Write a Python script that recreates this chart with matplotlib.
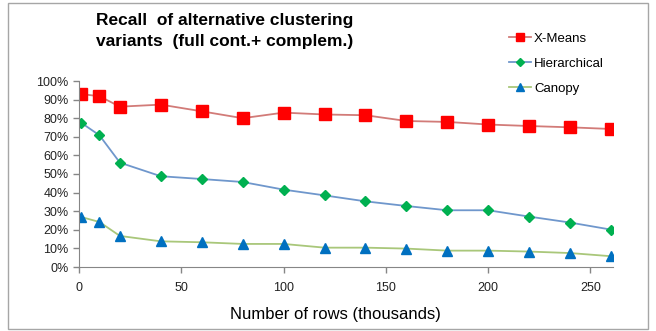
#!/usr/bin/env python3
# -*- coding: utf-8 -*-

import matplotlib as mpl
mpl.use("Agg")
from matplotlib import pyplot as plt
from matplotlib.patches import Rectangle
from matplotlib.ticker import PercentFormatter

plt.rcParams["font.family"] = ["Liberation Sans", "DejaVu Sans"]

# - data (recall, fraction)
rows_k = [1, 10, 20, 40, 60, 80, 100, 120, 140, 160, 180, 200, 220, 240, 260]
xmeans = [0.930, 0.918, 0.862, 0.873, 0.837, 0.800, 0.830, 0.820,
          0.816, 0.785, 0.780, 0.766, 0.758, 0.751, 0.742]
hierarchical = [0.776, 0.708, 0.561, 0.488, 0.473, 0.457, 0.416, 0.385,
                0.353, 0.328, 0.305, 0.305, 0.271, 0.239, 0.201]
canopy = [0.269, 0.242, 0.167, 0.138, 0.133, 0.124, 0.124, 0.104,
          0.104, 0.099, 0.088, 0.088, 0.083, 0.075, 0.058]

x_ticks = [0, 50, 100, 150, 200, 250]
y_ticks = [i / 10 for i in range(11)]

fig = plt.figure(figsize=(6.56, 3.31), dpi=100)
ax = fig.add_axes([79 / 656, 1 - 267 / 331, (613 - 79) / 656, (267 - 81) / 331])

# chart area border
fig.patches.append(Rectangle((8 / 656, 2 / 331), 640 / 656, 326 / 331,
                             transform=fig.transFigure, fill=False,
                             edgecolor="#a6a6a6", linewidth=1.0))

ax.plot(rows_k, xmeans, color="#d27b78", lw=1.3, marker="s", ms=8.5,
        mfc="#ff0000", mec="#ff0000", label="X-Means")
ax.plot(rows_k, hierarchical, color="#6f97cc", lw=1.3, marker="D", ms=5.5,
        mfc="#00b050", mec="#00b050", label="Hierarchical")
ax.plot(rows_k, canopy, color="#a9c77a", lw=1.3, marker="^", ms=7.5,
        mfc="#0070c0", mec="#0070c0", label="Canopy")

ax.set_xlim(0, 261)
ax.set_ylim(0, 1)
ax.set_xticks(x_ticks)
ax.set_yticks(y_ticks)
ax.yaxis.set_major_formatter(PercentFormatter(1.0, decimals=0))
for s in ["top", "right"]:
    ax.spines[s].set_visible(False)
for s in ["left", "bottom"]:
    ax.spines[s].set_color("#868686")
ax.tick_params(axis="both", colors="#868686", labelcolor="#222222",
               labelsize=9, length=4, width=1)
ax.tick_params(axis="x", pad=7)

ax.set_xlabel("Number of rows (thousands)", fontsize=12)
ax.xaxis.set_label_coords(0.48, -0.215)

fig.text(96 / 656, 1 - 13 / 331,
         "Recall  of alternative clustering\nvariants  (full cont.+ complem.)",
         fontsize=12.5, fontweight="bold", va="top", ha="left",
         linespacing=1.5)

fig.legend(loc="upper left", bbox_to_anchor=(497 / 656, 1 - 21 / 331),
           frameon=False, fontsize=9.5, handlelength=1.7, labelspacing=0.95,
           handletextpad=0.2, markerscale=0.75)

plt.savefig("out.png", dpi=100)
plt.close()
